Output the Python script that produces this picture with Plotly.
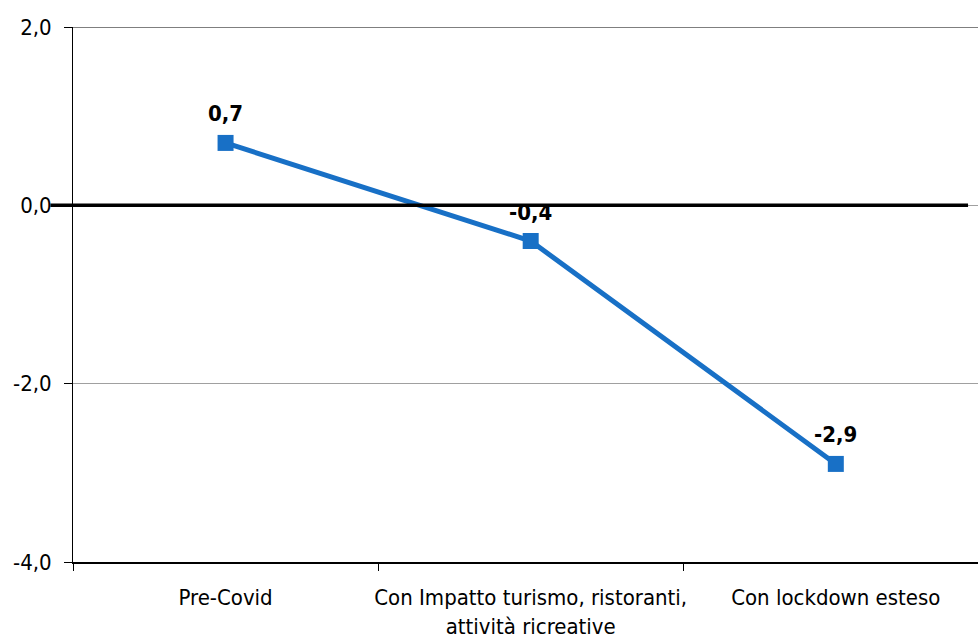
import plotly.graph_objects as go

# Scenario categories and growth values (%)
scenari = ["Pre-Covid", "Con Impatto turismo, ristoranti,<br>attività ricreative", "Con lockdown esteso"]
valori = [0.7, -0.4, -2.9]
etichette = ["0,7", "-0,4", "-2,9"]

y_ticks = [2.0, 0.0, -2.0, -4.0]
y_ticktext = ["2,0", "0,0", "-2,0", "-4,0"]

blu = "#1870C6"
font_fam = "DejaVu Sans Condensed, Liberation Sans Narrow, Arial Narrow, Liberation Sans, sans-serif"

fig = go.Figure()
fig.add_trace(go.Scatter(
    x=scenari, y=valori,
    mode="lines+markers",
    line=dict(color=blu, width=5),
    marker=dict(symbol="square", size=16, color=blu),
    cliponaxis=False,
    showlegend=False,
))

# Value labels above each point
for xv, yv, lab in zip(scenari, valori, etichette):
    fig.add_annotation(
        x=xv, y=yv, text=lab, showarrow=False,
        yanchor="middle", yshift=29,
        font=dict(family=font_fam, size=22, color="black", weight="bold"),
    )

# Thick zero line and top border
fig.add_shape(type="line", xref="paper", yref="y", x0=-0.025, x1=0.989, y0=0, y1=0,
              line=dict(color="black", width=3.5))
fig.add_shape(type="line", xref="paper", yref="y", x0=0, x1=1, y0=2, y1=2,
              line=dict(color="black", width=1))

fig.update_layout(
    width=978, height=639,
    margin=dict(l=73, r=0, t=27, b=77),
    paper_bgcolor="white", plot_bgcolor="white",
    font=dict(family=font_fam, size=22, color="black"),
    xaxis=dict(
        type="category", range=[-0.5, 2.466], automargin=False, tickangle=0,
        showgrid=False, showline=True, linecolor="black", linewidth=1.5,
        ticks="outside", tickson="boundaries", ticklen=7, tickcolor="black",
        ticklabelstandoff=15,
        tickfont=dict(family=font_fam, size=22),
    ),
    yaxis=dict(
        range=[-4, 2], tickvals=y_ticks, ticktext=y_ticktext, automargin=False,
        showgrid=True, gridcolor="#A0A0A0", gridwidth=1, zeroline=False,
        showline=True, linecolor="black", linewidth=1,
        ticks="outside", ticklen=8, tickcolor="black",
        ticklabelstandoff=8,
        tickfont=dict(family=font_fam, size=22),
    ),
)

fig.write_html("out.html")
